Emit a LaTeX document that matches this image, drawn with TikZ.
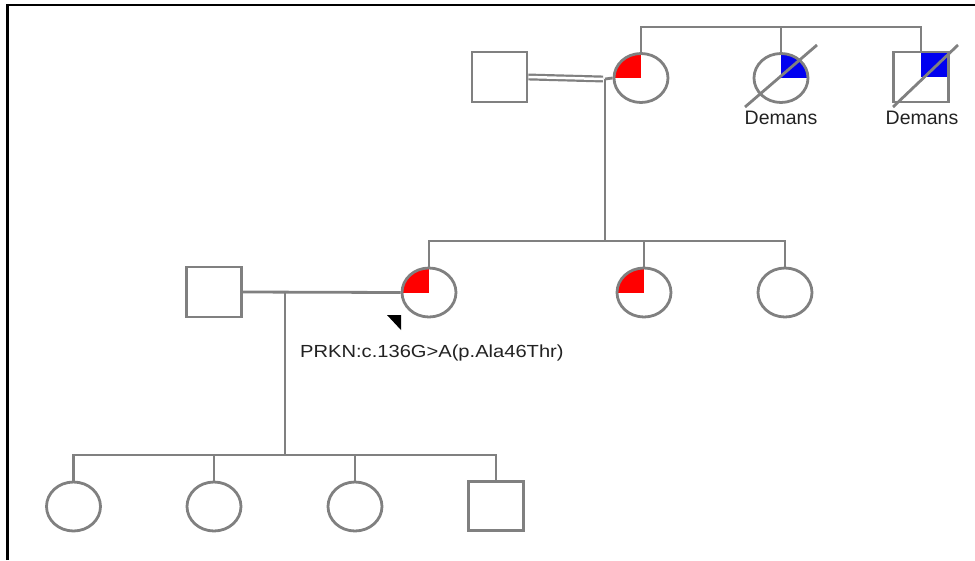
\documentclass[tikz,border=0pt]{standalone}
\usepackage{fontspec}
\setmainfont{Liberation Sans}
\usetikzlibrary{shapes.geometric}
\definecolor{pline}{RGB}{128,128,128}
\definecolor{ptext}{RGB}{34,34,34}
\definecolor{affred}{RGB}{255,0,0}
\definecolor{affblue}{RGB}{0,0,240}
\begin{document}
\begin{tikzpicture}[x=1pt,y=-1pt,
  ln/.style={draw=pline, line width=2.8pt},
  male/.style={rectangle, draw=pline, line width=2.8pt, minimum width=55pt, minimum height=50pt, inner sep=0pt, fill=white},
  female/.style={ellipse, draw=pline, line width=2.8pt, minimum width=54pt, minimum height=49pt, inner sep=0pt, fill=white},
  ul/.style={path picture={\fill[#1] (path picture bounding box.center) rectangle (path picture bounding box.north west);}},
  ur/.style={path picture={\fill[#1] (path picture bounding box.center) rectangle (path picture bounding box.north east);}},
  lab/.style={font=\fontsize{19.5}{20}\selectfont, text=ptext, inner sep=0pt, anchor=base}]
\useasboundingbox (0,0) rectangle (975,560);
\fill[white] (0,0) rectangle (975,560);
% frame
\draw[line width=2.8pt, black] (7.5,560) -- (7.5,5) -- (975,5);

% Generation I
\node[male] (m1) at (499.5,77) {};
\node[female, ul=affred] (f1) at (641,78) {};
\node[female, ur=affblue] (f2) at (781,78) {};
\node[male, ur=affblue] (m2) at (921,77) {};
\draw[ln] (f2.center) ++(-36,29) -- ++(72,-62);
\draw[ln] (m2.center) ++(-28,30) -- ++(65,-62);
\node[lab] (lab1) at (781,124) {Demans};
\node[lab] (lab2) at (922,124) {Demans};

\coordinate (top) at (0,27);
\draw[ln] (f1.north) -- (f1.north |- top) -- (m2.north |- top) -- (m2.north);
\draw[ln] (f2.north) -- (f2.north |- top);

\coordinate (mar1) at (605,79);
\draw[draw=pline, line width=2.2pt, double=white, double distance=2.5pt] (m1.east) -- (mar1 -| 603,0);
\draw[ln] (mar1) -- (f1.west);

% Generation II
\node[male] (m3) at (214,292) {};
\node[female, ul=affred] (f3) at (429,292.5) {};
\node[female, ul=affred] (f4) at (644,292.5) {};
\node[female] (f5) at (785,292.5) {};
\coordinate (sib2) at (0,241);
\draw[ln] (mar1) -- (mar1 |- sib2);
\draw[ln] (f3.north) -- (f3.north |- sib2) -- (f5.north |- sib2) -- (f5.north);
\draw[ln] (f4.north) -- (f4.north |- sib2);
\draw[ln] (m3.east) -- (f3.west);
\coordinate (mar2) at (285,292);

% proband arrow and variant
\fill[black] (387,315) -- (401,315) -- (401,330) -- cycle;
\node[font=\fontsize{17.5}{18}\selectfont, text=ptext, inner sep=0pt, anchor=base west, xscale=1.15] (mut) at (300,357.5) {PRKN:c.136G>A(p.Ala46Thr)};

% Generation III
\node[female] (d1) at (73.5,506.5) {};
\node[female] (d2) at (214,506.5) {};
\node[female] (d3) at (355,506.5) {};
\node[male, minimum height=49pt] (s4) at (496,506) {};
\coordinate (sib3) at (0,455);
\draw[ln] (mar2) -- (mar2 |- sib3);
\draw[ln] (d1.north) -- (d1.north |- sib3) -- (s4.north |- sib3) -- (s4.north);
\draw[ln] (d2.north) -- (d2.north |- sib3);
\draw[ln] (d3.north) -- (d3.north |- sib3);
\end{tikzpicture}
\end{document}
